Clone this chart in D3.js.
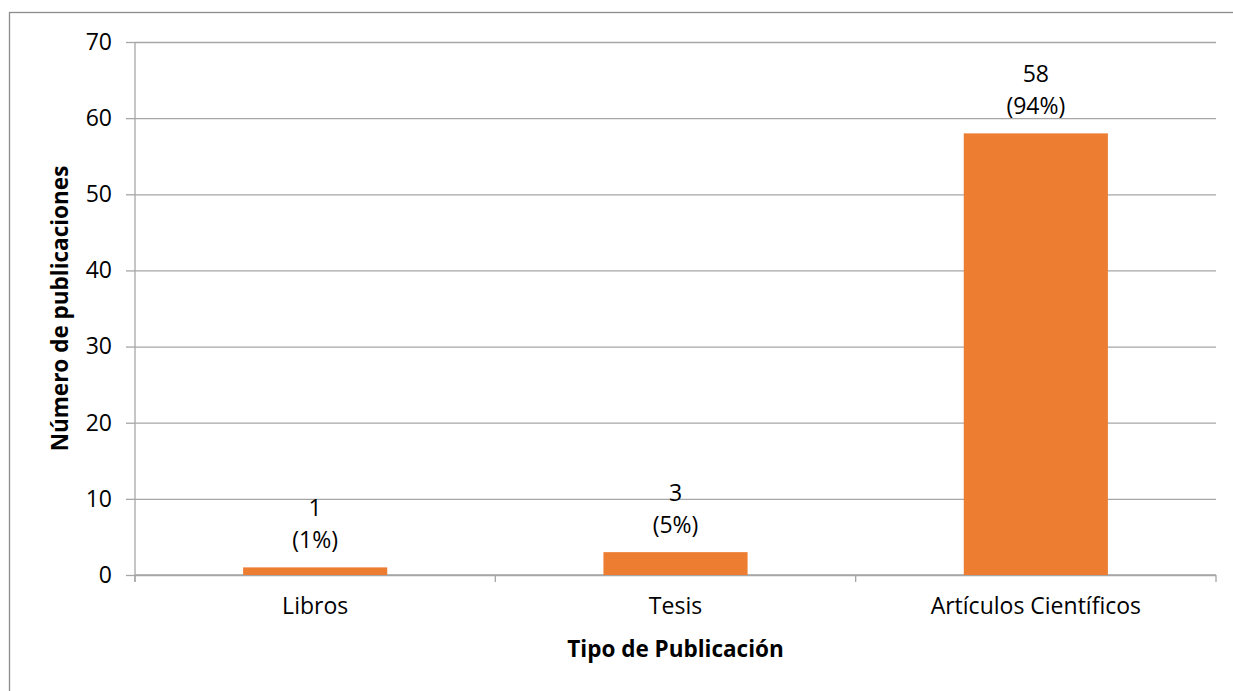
<!DOCTYPE html>
<html>
<head>
<meta charset="utf-8">
<script src="https://cdn.jsdelivr.net/npm/d3@7"></script>
<style>
  html, body { margin: 0; padding: 0; background: #fff; }
  svg { display: block; font-family: "Open Sans", "Noto Sans", sans-serif; }
</style>
</head>
<body>
<svg id="chart" width="1233" height="691"></svg>
<script>
// Publication types and counts
const categories = ["Libros", "Tesis", "Artículos Científicos"];
const counts = [1, 3, 58];
const shares = ["(1%)", "(5%)", "(94%)"];
const yTicks = [0, 10, 20, 30, 40, 50, 60, 70];

const W = 1233, H = 691;
const margin = { left: 135, right: 17, top: 42, bottom: 116 };
const fontSize = 23;
const svg = d3.select("#chart");

// outer chart frame
svg.append("rect")
  .attr("x", 9.5).attr("y", 12.5)
  .attr("width", W + 20).attr("height", H + 20)
  .attr("fill", "none").attr("stroke", "#8c8c8c").attr("stroke-width", 1.3);

const x = d3.scaleBand()
  .domain(categories)
  .range([margin.left, W - margin.right])
  .paddingInner(0.6).paddingOuter(0.3);

const y = d3.scaleLinear()
  .domain([0, 70])
  .range([H - margin.bottom, margin.top]);

const gridColor = "#a6a6a6";

// horizontal gridlines with outside ticks
const yAxis = svg.append("g")
  .attr("transform", `translate(${margin.left},0)`)
  .call(d3.axisLeft(y).tickValues(yTicks).tickSize(9).tickPadding(14));
yAxis.select(".domain").attr("stroke", gridColor).attr("stroke-width", 1.3)
  .attr("d", `M0,${y(70)}V${y(0) + 7}`);
yAxis.selectAll(".tick line").attr("stroke", gridColor).attr("stroke-width", 1.3);
yAxis.selectAll(".tick").append("line")
  .attr("x1", 0).attr("x2", W - margin.right - margin.left)
  .attr("stroke", gridColor).attr("stroke-width", 1.3);
yAxis.selectAll(".tick text")
  .attr("fill", "#000").attr("font-size", fontSize)
  .attr("font-family", "'Open Sans', sans-serif");

// category axis with boundary ticks
const xAxis = svg.append("g")
  .attr("transform", `translate(0,${y(0)})`)
  .call(d3.axisBottom(x).tickSize(0).tickPadding(23));
xAxis.select(".domain").remove();
xAxis.selectAll(".tick text")
  .attr("fill", "#000").attr("font-size", fontSize)
  .attr("font-family", "'Open Sans', sans-serif");
const bounds = d3.range(categories.length + 1)
  .map(i => margin.left + i * (W - margin.right - margin.left) / categories.length);
xAxis.append("line")
  .attr("x1", margin.left).attr("x2", W - margin.right)
  .attr("stroke", gridColor).attr("stroke-width", 1.3);
xAxis.selectAll(".bound").data(bounds).enter().append("line")
  .attr("class", "bound")
  .attr("x1", d => d).attr("x2", d => d)
  .attr("y1", 0).attr("y2", 7)
  .attr("stroke", gridColor).attr("stroke-width", 1.3);

// bars
svg.append("g").selectAll("rect").data(categories).enter().append("rect")
  .attr("x", d => x(d))
  .attr("width", x.bandwidth())
  .attr("y", (d, i) => y(counts[i]))
  .attr("height", (d, i) => y(0) - y(counts[i]))
  .attr("fill", "#ED7D31");

// value labels: count and share
const labels = svg.append("g").selectAll("text").data(categories).enter().append("text")
  .attr("text-anchor", "middle")
  .attr("font-size", fontSize)
  .attr("fill", "#000");
labels.append("tspan")
  .attr("x", d => x(d) + x.bandwidth() / 2)
  .attr("y", (d, i) => y(counts[i]) - 51)
  .text((d, i) => counts[i]);
labels.append("tspan")
  .attr("x", d => x(d) + x.bandwidth() / 2)
  .attr("y", (d, i) => y(counts[i]) - 19)
  .text((d, i) => shares[i]);

// axis titles
svg.append("text")
  .attr("x", (margin.left + W - margin.right) / 2)
  .attr("y", 657)
  .attr("text-anchor", "middle")
  .attr("font-size", 22.5).attr("font-weight", "bold")
  .text("Tipo de Publicación");

svg.append("text")
  .attr("transform", `translate(68,${(y(0) + y(70)) / 2}) rotate(-90)`)
  .attr("text-anchor", "middle")
  .attr("font-size", 22.5).attr("font-weight", "bold")
  .text("Número de publicaciones");
</script>
</body>
</html>
